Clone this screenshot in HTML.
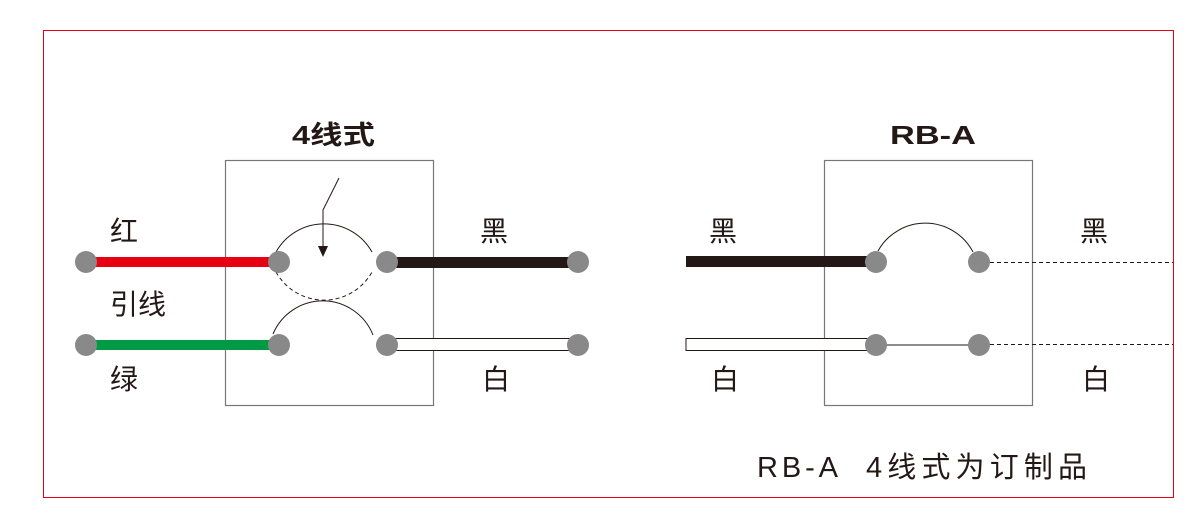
<!DOCTYPE html>
<html><head><meta charset="utf-8"><style>
html,body{margin:0;padding:0;background:#fff;}
svg{display:block;}
text{font-family:"Liberation Sans","Noto Sans CJK SC",sans-serif;fill:#231815;}
</style></head><body>
<svg width="1204" height="523" viewBox="0 0 1204 523" xmlns="http://www.w3.org/2000/svg">
<rect x="43.5" y="30.5" width="1130" height="467" fill="none" stroke="#e60012" stroke-width="1"/>
<!-- titles -->
<text x="292" y="144" font-size="26" font-weight="bold" textLength="83" lengthAdjust="spacingAndGlyphs">4线式</text>
<text x="890" y="144" font-size="26" font-weight="bold" textLength="86" lengthAdjust="spacingAndGlyphs">RB-A</text>
<!-- boxes -->
<rect x="225.5" y="160.5" width="208" height="245" fill="none" stroke="#777" stroke-width="1.2"/>
<rect x="824.5" y="160.5" width="208" height="245" fill="none" stroke="#777" stroke-width="1.2"/>
<!-- left wires -->
<rect x="86" y="257" width="193" height="10" fill="#e60012"/>
<rect x="86" y="340" width="193" height="10" fill="#009944"/>
<rect x="387" y="257" width="191" height="11" fill="#231815"/>
<rect x="387" y="338.5" width="191" height="12" fill="#fff" stroke="#231815" stroke-width="1"/>
<!-- arcs left -->
<path d="M276 252 A55 55 0 0 1 372 252" fill="none" stroke="#231815" stroke-width="1"/>
<path d="M276 272 A55 55 0 0 0 372 272" fill="none" stroke="#231815" stroke-width="1" stroke-dasharray="4,3"/>
<path d="M273 334 A54 54 0 0 1 373 335" fill="none" stroke="#231815" stroke-width="1"/>
<path d="M339 178 L323 210 L323 248" fill="none" stroke="#231815" stroke-width="1"/>
<polygon points="318,246 328,246 323,257" fill="#231815"/>
<!-- left dots -->
<g fill="#898989">
<circle cx="86" cy="262" r="11"/><circle cx="279" cy="262" r="11"/><circle cx="387" cy="262" r="11"/><circle cx="578" cy="262" r="11"/>
<circle cx="86" cy="345" r="11"/><circle cx="279" cy="345" r="11"/><circle cx="387" cy="345" r="11"/><circle cx="578" cy="345" r="11"/>
</g>
<!-- right -->
<rect x="686" y="256" width="190" height="11" fill="#231815"/>
<rect x="686" y="338.5" width="190" height="12" fill="#fff" stroke="#231815" stroke-width="1"/>
<path d="M878 251 A54 54 0 0 1 973 252" fill="none" stroke="#231815" stroke-width="1"/>
<line x1="876" y1="345" x2="979" y2="345" stroke="#231815" stroke-width="1"/>
<line x1="990" y1="262.5" x2="1173" y2="262.5" stroke="#231815" stroke-width="1" stroke-dasharray="4,3"/>
<line x1="990" y1="344.5" x2="1173" y2="344.5" stroke="#231815" stroke-width="1" stroke-dasharray="4,3"/>
<g fill="#898989">
<circle cx="876" cy="262" r="11"/><circle cx="979" cy="262" r="11"/>
<circle cx="876" cy="345" r="11"/><circle cx="979" cy="345" r="11"/>
</g>
<!-- labels -->
<g font-size="28">
<text x="110" y="241">红</text>
<text x="110" y="314">引线</text>
<text x="110" y="389">绿</text>
<text x="480" y="241">黑</text>
<text x="482" y="389">白</text>
<text x="709" y="241">黑</text>
<text x="711" y="389">白</text>
<text x="1080" y="241">黑</text>
<text x="1082" y="389">白</text>
</g>
<text x="757" y="477" font-size="29" textLength="81" lengthAdjust="spacing">RB-A</text>
<text x="866" y="477" font-size="29" textLength="221" lengthAdjust="spacing">4线式为订制品</text>
</svg>
</body></html>
